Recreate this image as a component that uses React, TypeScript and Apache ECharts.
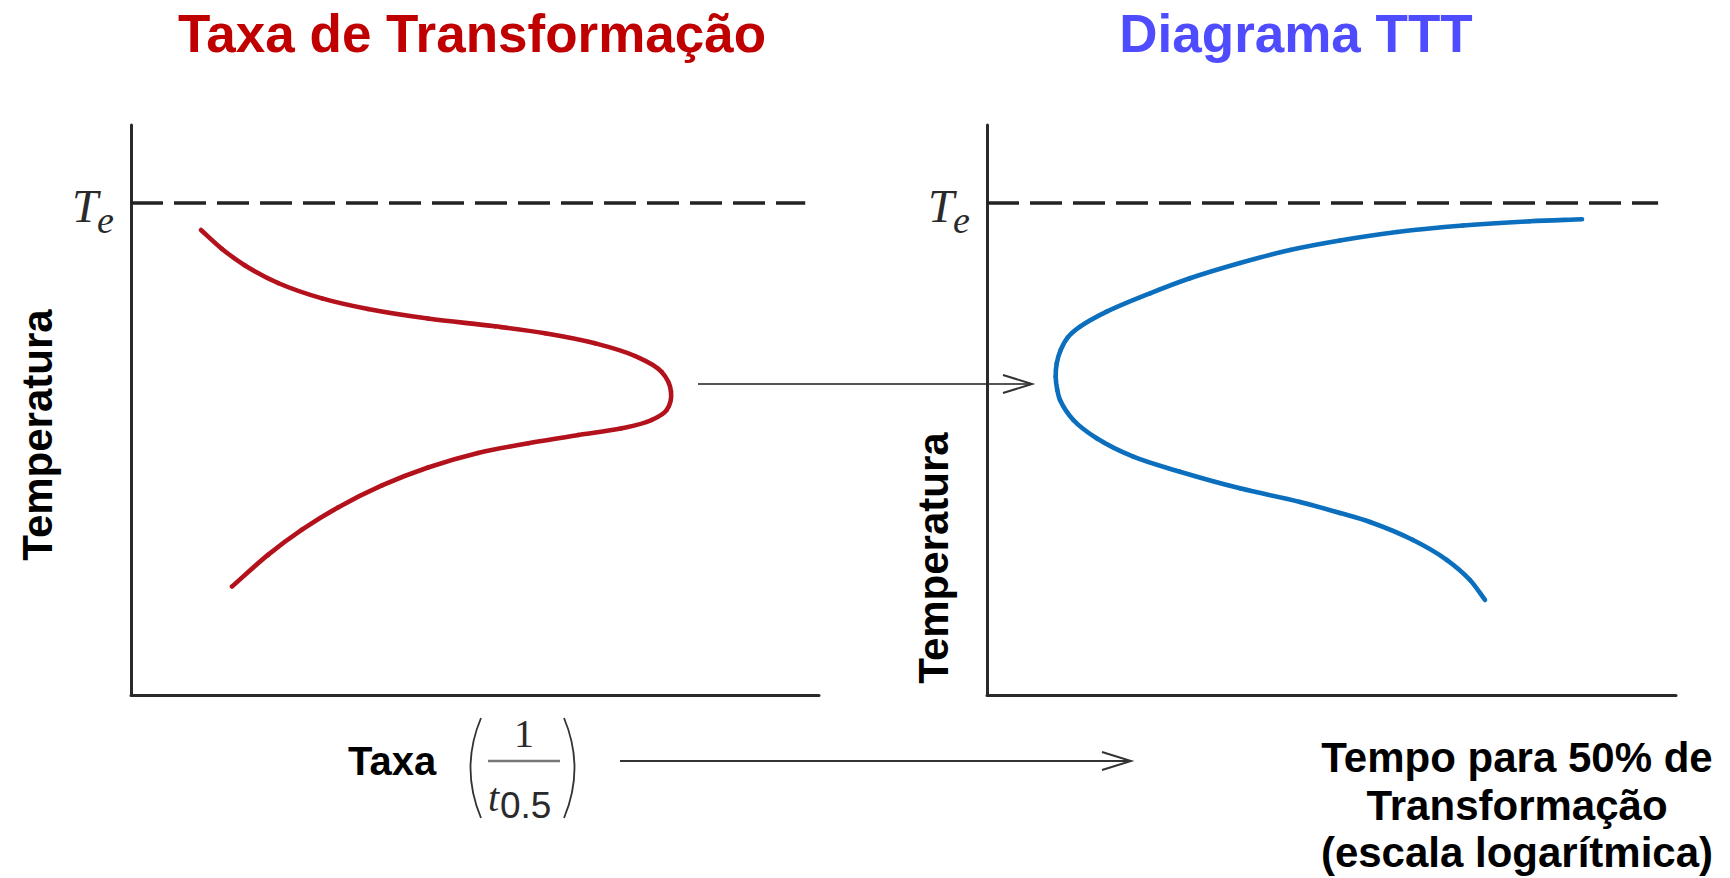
import React, { useEffect, useRef } from "react";
import * as echarts from "echarts";

// ---- Data ----
const TITLES = ["Taxa de Transformação", "Diagrama TTT"];
const Y_NAME = "Temperatura";
const X_NAME_LEFT = "Taxa";
const X_NAME_RIGHT = ["Tempo para 50% de", "Transformação", "(escala logarítmica)"];
const TE_LEVEL = 86.3; // equilibrium temperature Te (axis units 0..100)
const TE_LINE_END = [98.0, 97.4]; // how far the dashed Te line runs in each panel

// Transformation rate curve (x = rate 1/t0.5, y = temperature)
const RATE_X = [10.17, 13.23, 16.57, 21.37, 27.76, 34.45, 43.17, 52.91, 60.17, 67.44, 73.26, 77.14, 78.49, 77.86, 75.68, 71.32, 65.01, 57.75, 50.44, 43.17, 36.48, 30.09, 24.85, 19.91, 14.68];
const RATE_Y = [81.58, 78.26, 75.35, 72.28, 69.58, 67.72, 66.04, 64.68, 63.46, 61.7, 59.47, 56.67, 53.21, 50.0, 48.25, 46.79, 45.61, 44.16, 42.46, 39.91, 36.77, 32.91, 29.0, 24.58, 19.02];

// TTT curve (x = log time for 50% transformation, y = temperature)
const TTT_X = [86.36, 78.81, 69.09, 59.51, 51.23, 43.98, 36.72, 29.46, 23.66, 17.37, 13.5, 11.7, 10.7, 10.12, 9.97, 10.2, 10.6, 12.53, 15.92, 21.23, 28.01, 36.72, 45.43, 51.23, 55.59, 61.83, 66.76, 70.1, 72.28];
const TTT_Y = [83.46, 83.11, 82.37, 81.23, 79.74, 78.07, 75.79, 73.11, 70.47, 67.25, 64.61, 62.7, 60.53, 58.19, 55.84, 53.51, 51.75, 48.25, 45.04, 41.81, 39.18, 36.26, 33.86, 31.93, 30.35, 27.19, 23.68, 20.18, 16.67];

const SANS = '"Liberation Sans", Arial, Helvetica, sans-serif';
const SERIF = '"Liberation Serif", "Times New Roman", serif';

// A smooth curve drawn segment by segment through the data points (Hermite/Bézier with
// bisector tangents), every point placed through the axis scales with api.coord.
function smoothCurveSeries(xs: number[], ys: number[], gridIndex: number, color: string) {
  const n = xs.length;
  return {
    type: "custom",
    coordinateSystem: "cartesian2d",
    xAxisIndex: gridIndex,
    yAxisIndex: gridIndex,
    clip: false,
    encode: { x: 0, y: 1 },
    data: xs.map((x, i) => [x, ys[i]]),
    renderItem: (params: any, api: any) => {
      const i = params.dataIndex;
      if (i >= n - 1) return null;
      const pt = (k: number) => api.coord([xs[k], ys[k]]) as number[];
      const unit = (a: number[], b: number[]) => {
        const dx = b[0] - a[0];
        const dy = b[1] - a[1];
        const l = Math.hypot(dx, dy) || 1;
        return [dx / l, dy / l];
      };
      const tangent = (k: number) => {
        if (k <= 0) return unit(pt(0), pt(1));
        if (k >= n - 1) return unit(pt(n - 2), pt(n - 1));
        const a = unit(pt(k - 1), pt(k));
        const b = unit(pt(k), pt(k + 1));
        const t = [a[0] + b[0], a[1] + b[1]];
        const l = Math.hypot(t[0], t[1]) || 1;
        return [t[0] / l, t[1] / l];
      };
      const p1 = pt(i);
      const p2 = pt(i + 1);
      const d = Math.hypot(p2[0] - p1[0], p2[1] - p1[1]) / 3;
      const t1 = tangent(i);
      const t2 = tangent(i + 1);
      return {
        type: "bezierCurve",
        shape: {
          x1: p1[0],
          y1: p1[1],
          cpx1: p1[0] + t1[0] * d,
          cpy1: p1[1] + t1[1] * d,
          cpx2: p2[0] - t2[0] * d,
          cpy2: p2[1] - t2[1] * d,
          x2: p2[0],
          y2: p2[1],
        },
        style: { stroke: color, lineWidth: 4.6, fill: "none", lineCap: "round" },
      };
    },
  };
}

export default function App() {
  const ref = useRef<HTMLDivElement>(null);

  useEffect(() => {
    const chart = echarts.init(ref.current!, null, { renderer: "svg" });

    const grids = [
      { left: 131, top: 125, width: 688, height: 570 },
      { left: 987, top: 125, width: 689, height: 570 },
    ];
    const axisLine = { show: true, onZero: false, lineStyle: { color: "#2a2a2a", width: 3 } };
    const hidden = {
      axisTick: { show: false },
      axisLabel: { show: false },
      splitLine: { show: false },
    };

    const option: any = {
      animation: false,
      backgroundColor: "#ffffff",
      grid: grids.map((g) => ({ ...g, outerBoundsMode: "none" })),
      xAxis: grids.map((_, i) => ({ type: "value", gridIndex: i, min: 0, max: 100, axisLine, ...hidden })),
      yAxis: grids.map((_, i) => ({ type: "value", gridIndex: i, min: 0, max: 100, axisLine, ...hidden })),
      series: [
        {
          type: "line",
          xAxisIndex: 0,
          yAxisIndex: 0,
          data: [[0, TE_LEVEL], [TE_LINE_END[0], TE_LEVEL]],
          symbol: "none",
          lineStyle: { color: "#222222", width: 3.5, type: [32, 11] },
        },
        {
          type: "line",
          xAxisIndex: 1,
          yAxisIndex: 1,
          data: [[0, TE_LEVEL], [TE_LINE_END[1], TE_LEVEL]],
          symbol: "none",
          lineStyle: { color: "#222222", width: 3.5, type: [32, 11] },
        },
        smoothCurveSeries(RATE_X, RATE_Y, 0, "#B3121C"),
        smoothCurveSeries(TTT_X, TTT_Y, 1, "#0B6FBE"),
      ],
    };
    chart.setOption(option);

    // Positions derived from the axes
    const p0 = chart.convertToPixel({ gridIndex: 0 }, [0, TE_LEVEL]) as number[];
    const p1 = chart.convertToPixel({ gridIndex: 1 }, [0, TE_LEVEL]) as number[];

    const teLabel = (p: number[]) => [
      {
        type: "text",
        style: {
          text: "T",
          x: p[0] - 59,
          y: p[1] + 3,
          font: `italic 47px ${SERIF}`,
          fill: "#2a2a2a",
          align: "left",
          verticalAlign: "middle",
        },
      },
      {
        type: "text",
        style: {
          text: "e",
          x: p[0] - 34,
          y: p[1] + 17,
          font: `italic 38px ${SERIF}`,
          fill: "#2a2a2a",
          align: "left",
          verticalAlign: "middle",
        },
      },
    ];

    const boldText = (text: string, x: number, y: number, size: number, fill: string, align = "center") => ({
      type: "text",
      style: { text, x, y, font: `bold ${size}px ${SANS}`, fill, align, verticalAlign: "middle" },
    });

    const graphic: any[] = [
      boldText(TITLES[0], 472, 33, 53, "#C00000"),
      boldText(TITLES[1], 1296, 33, 53, "#4F4CFF"),
      ...teLabel(p0),
      ...teLabel(p1),
      {
        type: "text",
        x: 37,
        y: 435,
        rotation: Math.PI / 2,
        style: { text: Y_NAME, font: `bold 42px ${SANS}`, fill: "#000", align: "center", verticalAlign: "middle" },
      },
      {
        type: "text",
        x: 933,
        y: 558,
        rotation: Math.PI / 2,
        style: { text: Y_NAME, font: `bold 42px ${SANS}`, fill: "#000", align: "center", verticalAlign: "middle" },
      },
      boldText(X_NAME_LEFT, 348, 761, 40, "#000", "left"),
      boldText(X_NAME_RIGHT[0], 1517, 757, 42, "#000"),
      boldText(X_NAME_RIGHT[1], 1517, 805, 42, "#000"),
      boldText(X_NAME_RIGHT[2], 1517, 852, 42, "#000"),
      // formula (1 / t0.5)
      {
        type: "bezierCurve",
        shape: { x1: 481, y1: 718, cpx1: 460, cpy1: 768, x2: 481, y2: 818 },
        style: { stroke: "#333", lineWidth: 1.8, fill: null },
      },
      {
        type: "bezierCurve",
        shape: { x1: 564, y1: 718, cpx1: 585, cpy1: 768, x2: 564, y2: 818 },
        style: { stroke: "#333", lineWidth: 1.8, fill: null },
      },
      {
        type: "text",
        style: { text: "1", x: 524, y: 733, font: `40px ${SERIF}`, fill: "#2a2a2a", align: "center", verticalAlign: "middle" },
      },
      {
        type: "line",
        shape: { x1: 488, y1: 761, x2: 560, y2: 761 },
        style: { stroke: "#777", lineWidth: 2.5 },
      },
      {
        type: "text",
        style: { text: "t", x: 488, y: 797, font: `italic 40px ${SERIF}`, fill: "#2a2a2a", align: "left", verticalAlign: "middle" },
      },
      {
        type: "text",
        style: { text: "0.5", x: 500, y: 805, font: `37px ${SANS}`, fill: "#2a2a2a", align: "left", verticalAlign: "middle" },
      },
      // arrows
      {
        type: "line",
        shape: { x1: 698, y1: 384, x2: 1031, y2: 384 },
        style: { stroke: "#555", lineWidth: 2 },
      },
      {
        type: "polyline",
        shape: { points: [[1003, 375], [1032, 384], [1003, 393]] },
        style: { stroke: "#333", lineWidth: 2, fill: null },
      },
      {
        type: "line",
        shape: { x1: 620, y1: 761, x2: 1130, y2: 761 },
        style: { stroke: "#333", lineWidth: 2 },
      },
      {
        type: "polyline",
        shape: { points: [[1102, 752], [1131, 761], [1102, 770]] },
        style: { stroke: "#333", lineWidth: 2, fill: null },
      },
    ];

    chart.setOption({ graphic });

    return () => chart.dispose();
  }, []);

  return (
    <div
      ref={ref}
      style={{ position: "absolute", left: 0, top: 0, width: 1730, height: 878, background: "#fff" }}
    />
  );
}
